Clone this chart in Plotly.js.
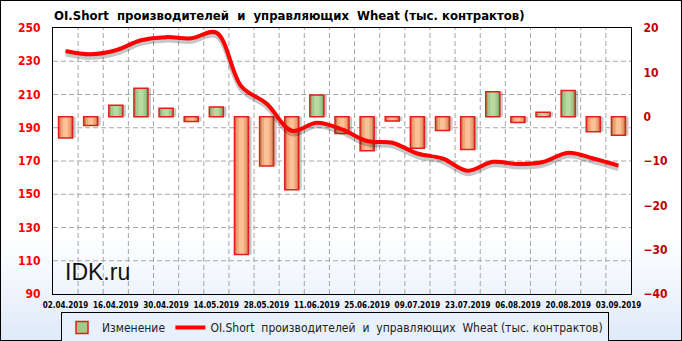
<!DOCTYPE html>
<html>
<head>
<meta charset="utf-8">
<script src="https://cdn.plot.ly/plotly-3.0.1.min.js"></script>
<style>
html,body{margin:0;padding:0;background:#fff;}
#chart{width:682px;height:341px;
  background:linear-gradient(to bottom,#ffffff 0%,#ffffff 68%,#eef4fc 86%,#dde9f8 100%);
  box-shadow:inset 0 0 0 1px #000;}
</style>
</head>
<body>
<div id="chart"></div>
<script>
var dates = ['02.04.2019','09.04.2019','16.04.2019','23.04.2019','30.04.2019','07.05.2019','14.05.2019','21.05.2019','28.05.2019','04.06.2019','11.06.2019','18.06.2019','25.06.2019','02.07.2019','09.07.2019','16.07.2019','23.07.2019','30.07.2019','06.08.2019','13.08.2019','20.08.2019','27.08.2019','03.09.2019'];
var changes = [-4.8,-2.0,2.6,6.4,1.9,-1.1,2.2,-31.1,-11.1,-16.5,4.9,-3.8,-7.7,-1.0,-7.1,-3.1,-7.4,5.6,-1.3,1.0,5.9,-3.4,-4.2];
var oiShort = [236.2,234.2,236.6,242.6,244.5,243.8,247.2,214.8,204.5,188.2,193,189,182,181,174.5,171.5,164.2,169.5,168.2,169.4,175,171.5,167.2];
var leftTicks = [90,110,130,150,170,190,210,230,250];
var rightTicks = [-40,-30,-20,-10,0,10,20];
var barName = 'Изменение';
var lineName = 'OI.Short\u00a0 производителей\u00a0 и\u00a0 управляющих\u00a0 Wheat (тыс. контрактов)';
var titleText = 'OI.Short\u00a0 производителей\u00a0 и\u00a0 управляющих\u00a0 Wheat (тыс. контрактов)';

var idx = dates.map(function(d,i){return i;});
var labIdx = idx.filter(function(i){return i%2===0;});
var labTxt = labIdx.map(function(i){return dates[i];});
var gridX = idx.slice(0,-1).map(function(i){return i+0.5;});
var FONT = '"DejaVu Sans Condensed", "DejaVu Sans", sans-serif';

var W=682,H=341,L=53,R=51,T=28,B=47;
var pw=W-L-R, ph=H-T-B;
var GRID='#a6a6a6';
var LRANGE=[90,250];
var shadowShift = 3*(LRANGE[1]-LRANGE[0])/ph;

var BW = 0.56;
var isPos = changes.map(function(v){return v>=0;});
var shadow = {
  type:'bar', x: idx, y: changes, yaxis:'y', xaxis:'x', width: BW, offset: -BW/2+0.12,
  marker:{color:'rgba(60,60,60,0.28)', line:{width:0}}, showlegend:false, hoverinfo:'skip'
};
var barsDark = {
  type:'bar', x: idx, y: changes, name: barName, yaxis:'y', xaxis:'x', width: BW,
  marker:{color: isPos.map(function(p){return p?'#86ad6c':'#c97e52';}), line:{width:0}},
  showlegend:false, hoverinfo:'skip'
};
var barsMid = {
  type:'bar', x: idx, y: changes, yaxis:'y', xaxis:'x', width: BW*0.72,
  marker:{color: isPos.map(function(p){return p?'#a4c98b':'#f0a778';}), line:{width:0}},
  showlegend:false, hoverinfo:'skip'
};
var barsLight = {
  type:'bar', x: idx, y: changes, yaxis:'y', xaxis:'x', width: BW*0.36,
  marker:{color: isPos.map(function(p){return p?'#b9d9a3':'#fcc099';}), line:{width:0}},
  showlegend:false, hoverinfo:'skip'
};
var barsOutline = {
  type:'bar', x: idx, y: changes, name: barName, yaxis:'y', xaxis:'x', width: BW,
  marker:{color:'rgba(0,0,0,0)', line:{color:'#e0201b', width:1.5}},
  showlegend:false, hoverinfo:'skip'
};
var legendBar = {
  type:'bar', x:[null], y:[null], name: barName, yaxis:'y', xaxis:'x',
  marker:{color:'#a4c98b', line:{color:'#e0201b', width:1.5}}, hoverinfo:'skip'
};
var lineShadow = {
  type:'scatter', mode:'lines', x: idx, y: oiShort, yaxis:'y2', xaxis:'x',
  line:{color:'rgba(0,0,0,0.22)', width:5, shape:'spline', smoothing:1},
  showlegend:false, hoverinfo:'skip'
};
var line = {
  type:'scatter', mode:'lines', x: idx, y: oiShort, name: lineName, yaxis:'y3', xaxis:'x',
  line:{color:'#ff0000', width:4, shape:'spline', smoothing:1},
  hoverinfo:'skip'
};

var shapes = [];
leftTicks.slice(1,-1).forEach(function(v){
  shapes.push({type:'line', xref:'paper', yref:'y3', x0:0, x1:1, y0:v, y1:v, layer:'below',
               line:{color:GRID, width:1, dash:'5px,3px'}});
});
gridX.forEach(function(v){
  shapes.push({type:'line', xref:'x', yref:'paper', x0:v, x1:v, y0:0, y1:1, layer:'below',
               line:{color:GRID, width:1, dash:'5px,3px'}});
});

var layout = {
  width:W, height:H,
  margin:{l:L, r:R, t:T, b:B, pad:0},
  paper_bgcolor:'rgba(0,0,0,0)', plot_bgcolor:'rgba(0,0,0,0)',
  font:{family:FONT, color:'#000'},
  showlegend:true, barmode:'overlay',
  title:{text:titleText, font:{family:FONT, size:13, color:'#000', weight:'bold'},
         x:54/W, xref:'container', xanchor:'left', y:1-15/H, yref:'container', yanchor:'middle'},
  xaxis:{range:[-0.5,22.5], tickmode:'array', tickvals:labIdx, ticktext:labTxt, showgrid:false, zeroline:false,
         ticks:'outside', ticklen:3, tickcolor:'rgba(0,0,0,0)', automargin:false,
         tickfont:{family:FONT, size:8, color:'#000', weight:'bold'}, tickangle:0,
         showline:true, linecolor:'#000', linewidth:1, mirror:true},
  yaxis:{range:[-40,20], side:'right', tickvals:rightTicks, showgrid:false, zeroline:false,
         ticks:'outside', ticklen:9, tickcolor:'rgba(0,0,0,0)', automargin:false,
         tickfont:{family:FONT, size:12, color:'#c00000', weight:'bold'},
         showline:true, linecolor:'#000', linewidth:1},
  yaxis2:{range:[LRANGE[0]+shadowShift, LRANGE[1]+shadowShift], overlaying:'y', visible:false,
          showgrid:false, zeroline:false, automargin:false},
  yaxis3:{range:LRANGE, side:'left', overlaying:'y', tickvals:leftTicks, showgrid:false, zeroline:false,
          ticks:'outside', ticklen:9, tickcolor:'rgba(0,0,0,0)', automargin:false,
          tickfont:{family:FONT, size:12, color:'#ff0000', weight:'bold'},
          showline:true, linecolor:'#000', linewidth:1},
  legend:{orientation:'h', x:335/W, xref:'container', xanchor:'center', y:1-312/H, yref:'container', yanchor:'top',
          bgcolor:'#e8f1fb', bordercolor:'#000', borderwidth:1,
          font:{family:FONT, size:12, color:'#222'}, itemwidth:30, traceorder:'normal'},
  shapes: shapes,
  annotations:[{text:'IDK.ru', xref:'paper', yref:'paper', x:(63-L)/pw, xanchor:'left',
                y:(H-B-272)/ph, yanchor:'middle', showarrow:false,
                font:{family:'"Liberation Sans", Arial, sans-serif', size:23, color:'#111'}}]
};

Plotly.newPlot('chart',[shadow,barsDark,barsMid,barsLight,barsOutline,legendBar,lineShadow,line],layout,{displayModeBar:false, staticPlot:true});
</script>
</body>
</html>
